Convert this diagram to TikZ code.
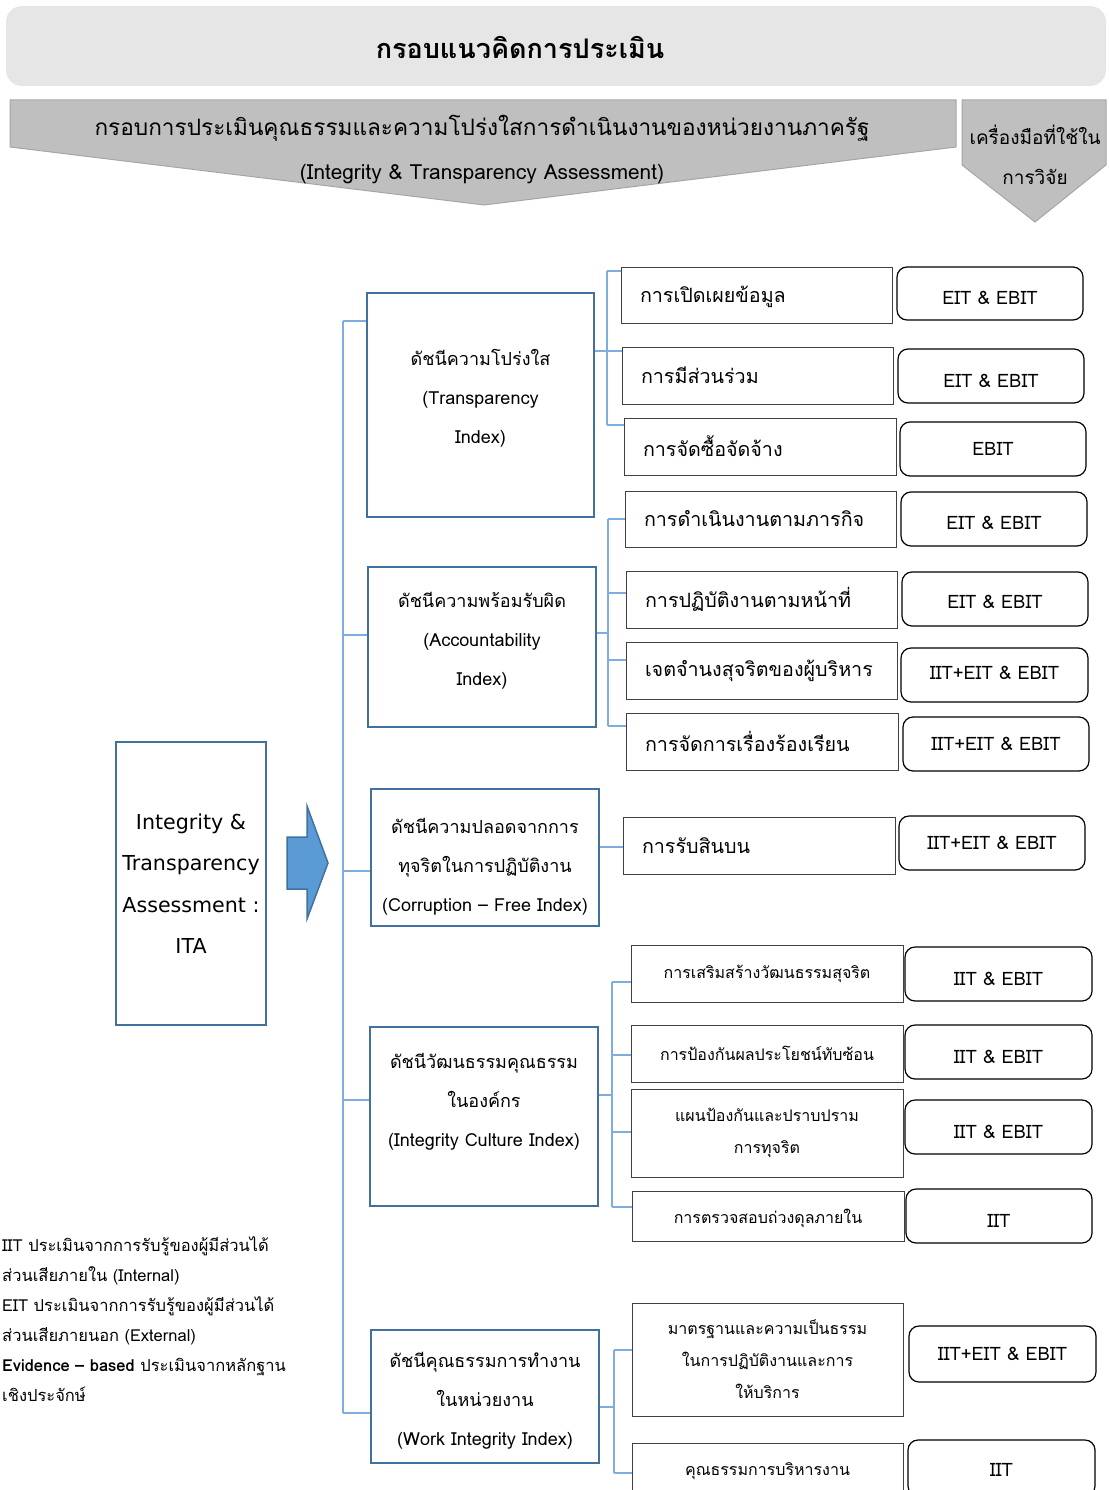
\documentclass[tikz,border=0pt]{standalone}
\usepackage{fontspec}
\setmainfont[Script=Thai]{Loma}
\newfontfamily\latinsans{DejaVu Sans}
\definecolor{idxblue}{HTML}{41719C}
\definecolor{connblue}{HTML}{7FADE0}
\definecolor{arrowblue}{HTML}{5B9BD5}
\definecolor{titlegray}{HTML}{E7E6E6}
\definecolor{bannergray}{HTML}{BFBFBF}
\definecolor{bannerline}{HTML}{A6A6A6}
\definecolor{subline}{HTML}{404040}
\newcommand\vshift[2]{\raisebox{#1}[\height][\depth]{#2}}
\newcommand\idxtext[4]{\vshift{#1}{\begin{tabular}{@{}c@{}}#2\\#3\\#4\end{tabular}}}
\tikzset{
  idx/.style={draw=idxblue, line width=2.6pt, fill=white, inner sep=0pt,
    font=\fontsize{18}{39}\selectfont},
  subl/.style={draw=subline, line width=1pt, fill=white, align=left, inner ysep=0pt,
    font=\fontsize{19.7}{30}\selectfont},
  subc/.style={draw=subline, line width=1pt, fill=white, align=center, inner sep=0pt,
    font=\fontsize{16}{32}\selectfont},
  tool/.style={draw=black, line width=1.2pt, rounded corners=10pt, fill=white, inner sep=0pt,
    font=\fontsize{18.5}{24}\selectfont},
  conn/.style={draw=connblue, line width=1.5pt},
  legend/.style={anchor=base west, inner sep=0pt, font=\fontsize{16.5}{20}\selectfont},
}
\begin{document}
\begin{tikzpicture}[x=1pt,y=-1pt]
\useasboundingbox (0,0) rectangle (1108,1490);
% title
\node[fill=titlegray, rounded corners=16pt, minimum width=1100pt, minimum height=80pt, inner sep=0pt] (titlebox) at (556,46) {};
\node[font=\fontsize{27}{30}\selectfont\bfseries] (titletext) at (520,48) {กรอบแนวคิดการประเมิน};
% banners
\draw[fill=bannergray, draw=bannerline, line width=1pt] (10,100) -- (956,100) -- (956,147) -- (484,205) -- (10,147) -- cycle;
\node[font=\fontsize{22.6}{28}\selectfont] (bantext1) at (482,128) {กรอบการประเมินคุณธรรมและความโปร่งใสการดำเนินงานของหน่วยงานภาครัฐ};
\node[font=\fontsize{20.8}{24}\selectfont] (bantext2) at (482,174) {(Integrity \& Transparency Assessment)};
\draw[fill=bannergray, draw=bannerline, line width=1pt] (962,100) -- (1106,100) -- (1106,165) -- (1035,222) -- (962,165) -- cycle;
\node[font=\fontsize{19}{24}\selectfont] (toolhead1) at (1035,135) {เครื่องมือที่ใช้ใน};
\node[font=\fontsize{19}{24}\selectfont] (toolhead2) at (1035,177) {การวิจัย};
% ITA box
\node[draw=idxblue, line width=2.6pt, minimum width=150pt, minimum height=283pt, align=center, inner sep=0pt,
  font=\latinsans\fontsize{20.6}{41.5}\selectfont] (ita) at (191,883.5) {Integrity \&\\Transparency\\Assessment :\\ITA};
% block arrow
\draw[fill=arrowblue, draw=idxblue, line width=1.5pt] (287,837) -- (307,837) -- (307,806) -- (328,863) -- (307,919) -- (307,889) -- (287,889) -- cycle;
% index boxes
\node[idx, minimum width=227pt, minimum height=224pt] (ti) at (480.5,405) {\idxtext{8pt}{ดัชนีความโปร่งใส}{(Transparency}{Index)}};
\node[idx, minimum width=228pt, minimum height=160pt] (ai) at (482,647) {\idxtext{8pt}{ดัชนีความพร้อมรับผิด}{(Accountability}{Index)}};
\node[idx, minimum width=228pt, minimum height=137pt] (ci) at (485,857.5) {\idxtext{-7.5pt}{ดัชนีความปลอดจากการ}{ทุจริตในการปฏิบัติงาน}{(Corruption – Free Index)}};
\node[idx, minimum width=228pt, minimum height=179pt] (ic) at (484,1116.5) {\idxtext{16.5pt}{ดัชนีวัฒนธรรมคุณธรรม}{ในองค์กร}{(Integrity Culture Index)}};
\node[idx, minimum width=228pt, minimum height=133pt] (wi) at (485,1396.5) {\idxtext{-2pt}{ดัชนีคุณธรรมการทำงาน}{ในหน่วยงาน}{(Work Integrity Index)}};
% sub boxes group 1
\node[subl, minimum width=271pt, minimum height=56pt, text width=233pt, inner xsep=19pt] (s1) at (756.5,295) {\vshift{-2pt}{การเปิดเผยข้อมูล}};
\node[subl, minimum width=271pt, minimum height=57pt, text width=233pt, inner xsep=19pt] (s2) at (757.5,375.5) {การมีส่วนร่วม};
\node[subl, minimum width=272pt, minimum height=57pt, text width=234pt, inner xsep=19pt] (s3) at (760,446.5) {การจัดซื้อจัดจ้าง};
% group 2
\node[subl, minimum width=271pt, minimum height=56pt, text width=233pt, inner xsep=19pt] (s4) at (760.5,519) {การดำเนินงานตามภารกิจ};
\node[subl, minimum width=271pt, minimum height=57pt, text width=233pt, inner xsep=19pt] (s5) at (761.5,599.5) {การปฏิบัติงานตามหน้าที่};
\node[subl, minimum width=271pt, minimum height=57pt, text width=233pt, inner xsep=19pt] (s6) at (761.5,670.5) {เจตจำนงสุจริตของผู้บริหาร};
\node[subl, minimum width=272pt, minimum height=57pt, text width=234pt, inner xsep=19pt] (s7) at (762,741.5) {การจัดการเรื่องร้องเรียน};
% group 3
\node[subl, minimum width=272pt, minimum height=57pt, text width=234pt, inner xsep=19pt] (s8) at (759,845.5) {การรับสินบน};
% group 4
\node[subc, minimum width=272pt, minimum height=57pt] (s9) at (767,973.5) {การเสริมสร้างวัฒนธรรมสุจริต};
\node[subc, minimum width=272pt, minimum height=57pt] (s10) at (767,1053.5) {การป้องกันผลประโยชน์ทับซ้อน};
\node[subc, minimum width=272pt, minimum height=88pt] (s11) at (767,1133) {แผนป้องกันและปราบปราม\\การทุจริต};
\node[subc, minimum width=272pt, minimum height=50pt] (s12) at (768,1216) {\vshift{-2pt}{การตรวจสอบถ่วงดุลภายใน}};
% group 5
\node[subc, minimum width=271pt, minimum height=113pt] (s13) at (767.5,1359.5) {มาตรฐานและความเป็นธรรม\\ในการปฏิบัติงานและการ\\ให้บริการ};
\node[subc, minimum width=271pt, minimum height=56pt] (s14) at (767.5,1471) {คุณธรรมการบริหารงาน};
% tool boxes
\node[tool, minimum width=186pt, minimum height=53pt] (t1) at (990,293.5) {\vshift{-4pt}{EIT \& EBIT}};
\node[tool, minimum width=186pt, minimum height=54pt] (t2) at (991,376) {\vshift{-5pt}{EIT \& EBIT}};
\node[tool, minimum width=186pt, minimum height=54pt] (t3) at (993,449) {EBIT};
\node[tool, minimum width=186pt, minimum height=54pt] (t4) at (994,519) {\vshift{-4pt}{EIT \& EBIT}};
\node[tool, minimum width=186pt, minimum height=54pt] (t5) at (995,599) {\vshift{-3pt}{EIT \& EBIT}};
\node[tool, minimum width=187pt, minimum height=54pt] (t6) at (994.5,675) {\vshift{2pt}{IIT+EIT \& EBIT}};
\node[tool, minimum width=186pt, minimum height=54pt] (t7) at (996,744) {IIT+EIT \& EBIT};
\node[tool, minimum width=186pt, minimum height=54pt] (t8) at (992,843) {IIT+EIT \& EBIT};
\node[tool, minimum width=187pt, minimum height=54pt] (t9) at (998.5,974) {\vshift{-5pt}{IIT \& EBIT}};
\node[tool, minimum width=187pt, minimum height=54pt] (t10) at (998.5,1052) {\vshift{-5pt}{IIT \& EBIT}};
\node[tool, minimum width=187pt, minimum height=54pt] (t11) at (998.5,1127) {\vshift{-5pt}{IIT \& EBIT}};
\node[tool, minimum width=186pt, minimum height=54pt] (t12) at (999,1216) {\vshift{-5pt}{IIT}};
\node[tool, minimum width=187pt, minimum height=56pt] (t13) at (1002.5,1354) {IIT+EIT \& EBIT};
\node[tool, minimum width=187pt, minimum height=56pt] (t14) at (1001.5,1468) {\vshift{-2pt}{IIT}};
% trunk
\coordinate (trtop) at (343,321);
\coordinate (trA) at (343,635);
\coordinate (trC) at (343,871);
\coordinate (trI) at (343,1100);
\coordinate (trbot) at (343,1413);
\draw[conn] (trtop) -- (trbot);
\draw[conn] (trtop) -- (trtop -| ti.west);
\draw[conn] (trA) -- (trA -| ai.west);
\draw[conn] (trC) -- (trC -| ci.west);
\draw[conn] (trI) -- (trI -| ic.west);
\draw[conn] (trbot) -- (trbot -| wi.west);
% group 1 bracket
\coordinate (g1) at (607,351);
\coordinate (g1a) at (607,271);
\coordinate (g1c) at (607,425);
\draw[conn] (g1 -| ti.east) -- (g1 -| s2.west);
\draw[conn] (g1a) -- (g1c);
\draw[conn] (g1a) -- (g1a -| s1.west);
\draw[conn] (g1c) -- (g1c -| s3.west);
% group 2 bracket
\coordinate (g2) at (608,633);
\coordinate (g2a) at (608,519);
\coordinate (g2b) at (608,593);
\coordinate (g2c) at (608,660);
\coordinate (g2d) at (608,726);
\draw[conn] (g2 -| ai.east) -- (g2);
\draw[conn] (g2a) -- (g2d);
\draw[conn] (g2a) -- (g2a -| s4.west);
\draw[conn] (g2b) -- (g2b -| s5.west);
\draw[conn] (g2c) -- (g2c -| s6.west);
\draw[conn] (g2d) -- (g2d -| s7.west);
% group 3
\coordinate (g3) at (610,847);
\draw[conn] (g3 -| ci.east) -- (g3 -| s8.west);
% group 4 bracket
\coordinate (g4) at (612,1095);
\coordinate (g4a) at (612,982);
\coordinate (g4b) at (612,1055);
\coordinate (g4c) at (612,1132);
\coordinate (g4d) at (612,1207);
\draw[conn] (g4 -| ic.east) -- (g4);
\draw[conn] (g4a) -- (g4d);
\draw[conn] (g4a) -- (g4a -| s9.west);
\draw[conn] (g4b) -- (g4b -| s10.west);
\draw[conn] (g4c) -- (g4c -| s11.west);
\draw[conn] (g4d) -- (g4d -| s12.west);
% group 5 bracket
\coordinate (g5) at (614,1407);
\coordinate (g5a) at (614,1350);
\coordinate (g5b) at (614,1473);
\draw[conn] (g5 -| wi.east) -- (g5);
\draw[conn] (g5a) -- (g5b);
\draw[conn] (g5a) -- (g5a -| s13.west);
\draw[conn] (g5b) -- (g5b -| s14.west);
% legend
\node[legend] (lg1) at (2,1251) {IIT ประเมินจากการรับรู้ของผู้มีส่วนได้};
\node[legend] (lg2) at (2,1281) {ส่วนเสียภายใน (Internal)};
\node[legend] (lg3) at (2,1311) {EIT ประเมินจากการรับรู้ของผู้มีส่วนได้};
\node[legend] (lg4) at (2,1341) {ส่วนเสียภายนอก (External)};
\node[legend] (lg5) at (2,1371) {\textbf{Evidence – based} ประเมินจากหลักฐาน};
\node[legend] (lg6) at (2,1401) {เชิงประจักษ์};
\end{tikzpicture}
\end{document}
